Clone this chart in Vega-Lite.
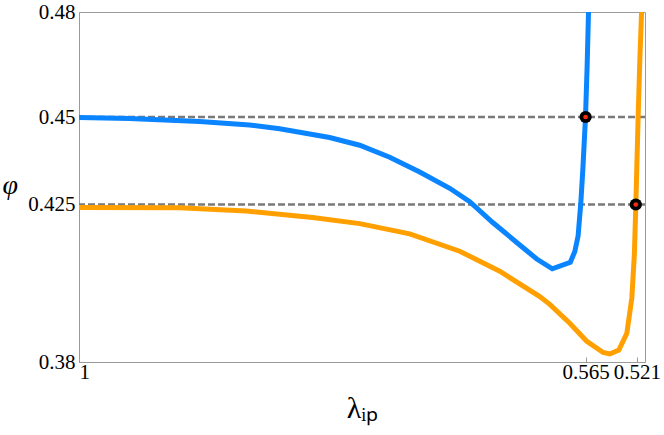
{
  "$schema": "https://vega.github.io/schema/vega-lite/v6.json",
  "width": 566,
  "height": 350,
  "autosize": {"type": "none"},
  "padding": {"left": 79, "top": 12, "right": 19, "bottom": 73},
  "config": {
    "view": {"stroke": "#9a9a9a", "strokeWidth": 1}
  },
  "datasets": {
    "curves": [
      {"s": "blue", "i": 0, "x": 1.0, "y": 0.44986},
      {"s": "blue", "i": 1, "x": 0.95661, "y": 0.44957},
      {"s": "blue", "i": 2, "x": 0.89647, "y": 0.44871},
      {"s": "blue", "i": 3, "x": 0.85351, "y": 0.44771},
      {"s": "blue", "i": 4, "x": 0.82774, "y": 0.44665},
      {"s": "blue", "i": 5, "x": 0.78478, "y": 0.44415},
      {"s": "blue", "i": 6, "x": 0.759, "y": 0.44194},
      {"s": "blue", "i": 7, "x": 0.73322, "y": 0.4385},
      {"s": "blue", "i": 8, "x": 0.70745, "y": 0.43429},
      {"s": "blue", "i": 9, "x": 0.68167, "y": 0.42963},
      {"s": "blue", "i": 10, "x": 0.66449, "y": 0.4258},
      {"s": "blue", "i": 11, "x": 0.64473, "y": 0.41986},
      {"s": "blue", "i": 12, "x": 0.62153, "y": 0.41343},
      {"s": "blue", "i": 13, "x": 0.60692, "y": 0.40943},
      {"s": "blue", "i": 14, "x": 0.59361, "y": 0.40663},
      {"s": "blue", "i": 15, "x": 0.57814, "y": 0.40849},
      {"s": "blue", "i": 16, "x": 0.57427, "y": 0.41157},
      {"s": "blue", "i": 17, "x": 0.57144, "y": 0.416},
      {"s": "blue", "i": 18, "x": 0.56912, "y": 0.42543},
      {"s": "blue", "i": 19, "x": 0.5674, "y": 0.43486},
      {"s": "blue", "i": 20, "x": 0.56508, "y": 0.45},
      {"s": "blue", "i": 21, "x": 0.56371, "y": 0.46429},
      {"s": "blue", "i": 22, "x": 0.56251, "y": 0.48},
      {"s": "blue", "i": 23, "x": 0.562, "y": 0.49},
      {"s": "orange", "i": 0, "x": 1.0, "y": 0.42414},
      {"s": "orange", "i": 1, "x": 0.91365, "y": 0.42404},
      {"s": "orange", "i": 2, "x": 0.85634, "y": 0.42314},
      {"s": "orange", "i": 3, "x": 0.79938, "y": 0.42127},
      {"s": "orange", "i": 4, "x": 0.759, "y": 0.41954},
      {"s": "orange", "i": 5, "x": 0.71604, "y": 0.4166},
      {"s": "orange", "i": 6, "x": 0.67308, "y": 0.41166},
      {"s": "orange", "i": 7, "x": 0.63871, "y": 0.40594},
      {"s": "orange", "i": 8, "x": 0.60435, "y": 0.3987},
      {"s": "orange", "i": 9, "x": 0.59576, "y": 0.39646},
      {"s": "orange", "i": 10, "x": 0.57857, "y": 0.39107},
      {"s": "orange", "i": 11, "x": 0.56422, "y": 0.386},
      {"s": "orange", "i": 12, "x": 0.54996, "y": 0.38271},
      {"s": "orange", "i": 13, "x": 0.5442, "y": 0.38229},
      {"s": "orange", "i": 14, "x": 0.53647, "y": 0.38343},
      {"s": "orange", "i": 15, "x": 0.5296, "y": 0.3882},
      {"s": "orange", "i": 16, "x": 0.5253, "y": 0.39829},
      {"s": "orange", "i": 17, "x": 0.52315, "y": 0.41057},
      {"s": "orange", "i": 18, "x": 0.52186, "y": 0.42506},
      {"s": "orange", "i": 19, "x": 0.51989, "y": 0.45},
      {"s": "orange", "i": 20, "x": 0.51843, "y": 0.46629},
      {"s": "orange", "i": 21, "x": 0.51697, "y": 0.47971},
      {"s": "orange", "i": 22, "x": 0.5165, "y": 0.49}
    ],
    "levels": [{"y": 0.45}, {"y": 0.425}],
    "dots": [{"x": 0.565, "y": 0.45}, {"x": 0.5219, "y": 0.425}]
  },
  "layer": [
    {
      "data": {"name": "levels"},
      "mark": {"type": "rule", "color": "#7a7a7a", "strokeWidth": 2.5, "strokeDash": [7, 3]},
      "encoding": {
        "y": {
          "field": "y", "type": "quantitative",
          "scale": {"domain": [0.38, 0.48], "nice": false, "zero": false},
          "axis": {
            "values": [0.38, 0.425, 0.45, 0.48], "format": ".3~f",
            "grid": false, "domainColor": "#9a9a9a", "ticks": false, "labelOverlap": false,
            "labelFont": "Liberation Serif", "labelFontSize": 21, "labelColor": "black", "labelPadding": 4,
            "title": "φ", "titleFont": "Liberation Serif", "titleFontStyle": "italic", "titleFontWeight": "normal",
            "titleFontSize": 28, "titleColor": "black", "titleAngle": 0, "titleAlign": "left",
            "titleBaseline": "alphabetic", "titleX": -77, "titleY": 181
          }
        }
      }
    },
    {
      "data": {"name": "curves"},
      "mark": {"type": "line", "strokeWidth": 5, "clip": true},
      "encoding": {
        "x": {
          "field": "x", "type": "quantitative",
          "scale": {"domain": [0.514, 1], "reverse": true, "nice": false, "zero": false},
          "axis": {
            "values": [1, 0.565, 0.521], "format": ".3~f",
            "grid": false, "domainColor": "#9a9a9a", "tickColor": "#9a9a9a", "tickSize": -5, "labelOverlap": false,
            "labelFont": "Liberation Serif", "labelFontSize": 21, "labelColor": "black", "labelPadding": 4,
            "title": "λᵢₚ", "titleFont": "Liberation Serif", "titleFontWeight": "normal",
            "titleFontSize": 30, "titleColor": "black", "titleBaseline": "alphabetic", "titleY": 55
          }
        },
        "y": {
          "field": "y", "type": "quantitative",
          "axis": {
            "values": [0.38, 0.425, 0.45, 0.48], "format": ".3~f",
            "grid": false, "domainColor": "#9a9a9a", "ticks": false, "labelOverlap": false,
            "labelFont": "Liberation Serif", "labelFontSize": 21, "labelColor": "black", "labelPadding": 4,
            "title": "φ", "titleFont": "Liberation Serif", "titleFontStyle": "italic", "titleFontWeight": "normal",
            "titleFontSize": 28, "titleColor": "black", "titleAngle": 0, "titleAlign": "left",
            "titleBaseline": "alphabetic", "titleX": -77, "titleY": 181
          }
        },
        "color": {
          "field": "s", "type": "nominal",
          "scale": {"domain": ["blue", "orange"], "range": ["#0a84ff", "#ffa000"]},
          "legend": null
        },
        "order": {"field": "i", "type": "quantitative"}
      }
    },
    {
      "data": {"name": "dots"},
      "mark": {"type": "point", "filled": true, "color": "black", "size": 150, "opacity": 1},
      "encoding": {
        "x": {"field": "x", "type": "quantitative"},
        "y": {"field": "y", "type": "quantitative"}
      }
    },
    {
      "data": {"name": "dots"},
      "mark": {"type": "point", "filled": true, "color": "#ff2a10", "size": 22, "opacity": 1},
      "encoding": {
        "x": {"field": "x", "type": "quantitative"},
        "y": {"field": "y", "type": "quantitative"}
      }
    }
  ]
}
